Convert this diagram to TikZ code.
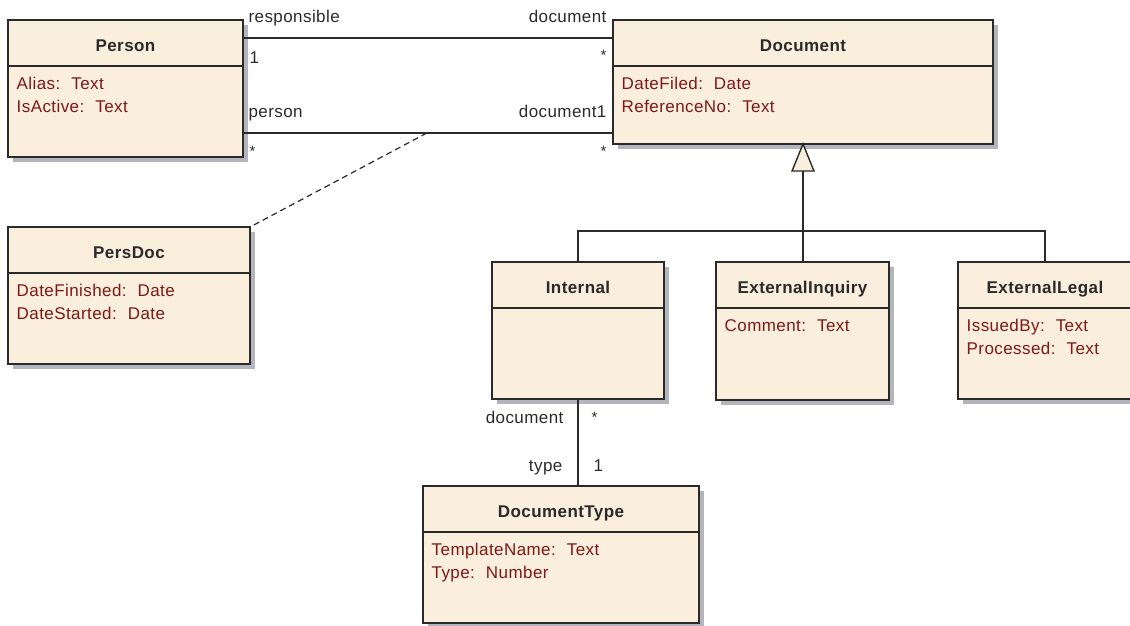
\documentclass[tikz,border=0pt]{standalone}
\usepackage{fontspec}
\setmainfont{Liberation Sans}[LetterSpace=2.5]
\usetikzlibrary{shadows}

\definecolor{classfill}{HTML}{FAEEDC}
\definecolor{attrred}{HTML}{7F1818}
\definecolor{inkgray}{HTML}{2A2A2A}
\definecolor{shadowgray}{HTML}{B4B4BC}

\tikzset{
  classbox/.style={draw=inkgray, line width=1.3pt, fill=classfill, rectangle,
    inner sep=0pt, outer sep=0pt, anchor=north west,
    drop shadow={shadow xshift=5pt, shadow yshift=-5pt, fill=shadowgray, opacity=1}},
  divider/.style={draw=inkgray, line width=1.1pt},
  classname/.style={font=\fontsize{17}{20}\selectfont\bfseries, text=inkgray, inner sep=0pt, anchor=base},
  attr/.style={font=\fontsize{17}{20}\selectfont, text=attrred, inner sep=0pt, anchor=base west},
  role/.style={font=\fontsize{17}{20}\selectfont, text=inkgray, inner sep=0pt},
  mult/.style={font=\fontsize{15}{18}\selectfont, text=inkgray, inner sep=0pt},
  assoc/.style={draw=inkgray, line width=1.2pt},
  genline/.style={draw=inkgray, line width=1.4pt},
  linkdash/.style={draw=inkgray, line width=1.2pt, dash pattern=on 6pt off 4pt},
}

% gap between an attribute name and its type
\newcommand{\typegap}{\hspace{11pt}}

% class box: name, top-left corner, width, height, title
\newcommand{\umlclass}[5]{%
  \node[classbox, minimum width=#3pt, minimum height=#4pt] (#1) at (#2) {};
  \draw[divider] ([yshift=-46pt]#1.north west) -- ([yshift=-46pt]#1.north east);
  \node[classname] (#1-name) at ([yshift=-31.5pt]#1.north) {#5};
}
% attribute lines below the header
\newcommand{\umlattrs}[2]{%
  \foreach \txt [count=\k] in {#2}
    \node[attr] (#1-attr\k) at ([xshift=8.5pt, yshift={-69.5pt-22.5pt*(\k-1)}]#1.north west) {\txt};
}

\begin{document}
\begin{tikzpicture}[x=1pt, y=-1pt]
\useasboundingbox (0,0) rectangle (1130,625);
\clip (0,0) rectangle (1130,625);

\umlclass{person}{8,20}{235}{137}{Person}
\umlattrs{person}{Alias:\typegap Text, IsActive:\typegap Text}

\umlclass{document}{613,20}{380}{124}{Document}
\umlattrs{document}{DateFiled:\typegap Date, ReferenceNo:\typegap Text}

\umlclass{persdoc}{8,227}{242}{137}{PersDoc}
\umlattrs{persdoc}{DateFinished:\typegap Date, DateStarted:\typegap Date}

\umlclass{internal}{492,262}{172}{137}{Internal}

\umlclass{extinq}{716,262}{173}{138}{ExternalInquiry}
\umlattrs{extinq}{Comment:\typegap Text}

\umlclass{extlegal}{958,262}{174}{137}{ExternalLegal}
\umlattrs{extlegal}{IssuedBy:\typegap Text, Processed:\typegap Text}

\umlclass{doctype}{423,486}{276}{137}{DocumentType}
\umlattrs{doctype}{TemplateName:\typegap Text, Type:\typegap Number}

% associations Person -- Document
\draw[assoc] ([yshift=-18pt]person.north east) -- ([yshift=-18pt]document.north west)
  node[role, at start, anchor=base west, xshift=5pt, yshift=16pt] {responsible}
  node[role, at start, anchor=base west, xshift=6pt, yshift=-25pt] {1}
  node[role, at end, anchor=base east, xshift=-6pt, yshift=16pt] {document}
  node[mult, at end, anchor=base east, xshift=-6pt, yshift=-22pt] {*};

\draw[assoc] ([yshift=-113pt]person.north east) -- ([yshift=-113pt]document.north west)
  coordinate[pos=0.497] (linkpt)
  node[role, at start, anchor=base west, xshift=5pt, yshift=16pt] {person}
  node[mult, at start, anchor=base west, xshift=6pt, yshift=-23pt] {*}
  node[role, at end, anchor=base east, xshift=-6pt, yshift=16pt] {document1}
  node[mult, at end, anchor=base east, xshift=-6pt, yshift=-23pt] {*};

% association class link
\draw[linkdash] (linkpt) -- (persdoc.north east);

% Internal -- DocumentType
\draw[assoc] (internal.south) -- (internal.south |- doctype.north)
  node[role, at start, anchor=base east, xshift=-14pt, yshift=-24pt] {document}
  node[mult, at start, anchor=base west, xshift=13pt, yshift=-23pt] {*}
  node[role, at end, anchor=base east, xshift=-15pt, yshift=15pt] {type}
  node[role, at end, anchor=base west, xshift=15pt, yshift=15pt] {1};

% generalization tree
\coordinate (genbase) at ([yshift=-27pt]document.south);
\coordinate (genbus) at ([yshift=-87pt]document.south);
\draw[genline] (genbase) -- (genbase |- extinq.north);
\draw[genline] (internal.north) |- (genbus) -| (extlegal.north);
\draw[genline, fill=classfill, line join=miter] (document.south) -- ++(-11,27) -- ++(22,0) -- cycle;
\end{tikzpicture}
\end{document}
